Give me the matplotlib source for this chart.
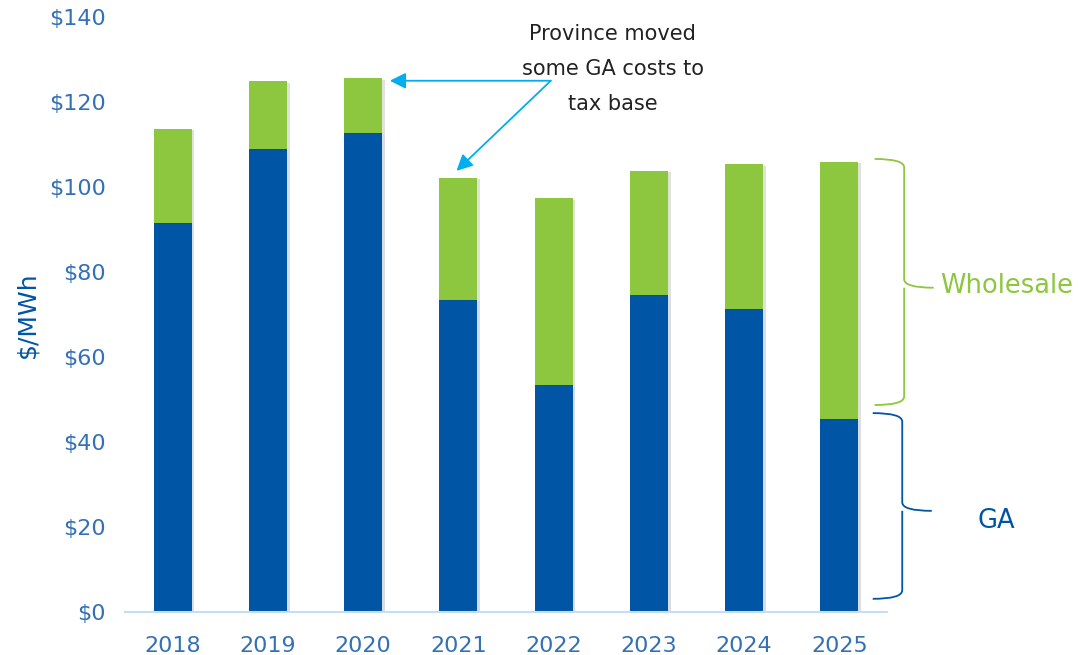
import matplotlib
matplotlib.use("Agg")
import matplotlib.pyplot as plt
from matplotlib.path import Path
from matplotlib.patches import PathPatch
import matplotlib.patheffects as pe

years = ["2018", "2019", "2020", "2021", "2022", "2023", "2024", "2025"]
ga = [91.6, 109.0, 112.8, 73.4, 53.4, 74.6, 71.3, 45.4]
total = [113.7, 124.9, 125.6, 102.2, 97.3, 103.8, 105.3, 106.0]
wholesale = [t - g for t, g in zip(total, ga)]
yticks = [0, 20, 40, 60, 80, 100, 120, 140]
note_lines = ["Province moved", "some GA costs to", "tax base"]

BLUE = "#0055A5"
GREEN = "#8DC63F"
TICK = "#3470B5"
ARROW = "#00AEEF"

fig = plt.figure(figsize=(10.79, 6.55), dpi=100)
ax = fig.add_axes([125 / 1079, (655 - 612) / 655, 762 / 1079, 595 / 655])

x = list(range(len(years)))
shadow = [pe.SimplePatchShadow(offset=(2, -1), alpha=0.15), pe.Normal()]
b1 = ax.bar(x, ga, width=0.4, color=BLUE, zorder=2)
b2 = ax.bar(x, wholesale, width=0.4, bottom=ga, color=GREEN, zorder=2)
for p in list(b1) + list(b2):
    p.set_path_effects(shadow)

ax.set_xlim(-0.5, 7.5)
ax.set_ylim(0, 140)
ax.set_xticks(x)
ax.set_xticklabels(years)
ax.set_yticks(yticks)
ax.set_yticklabels(["${}".format(v) for v in yticks])
ax.tick_params(axis="both", length=0, labelsize=16, labelcolor=TICK)
ax.tick_params(axis="y", pad=14)
ax.tick_params(axis="x", pad=17)
for s in ["top", "right", "left"]:
    ax.spines[s].set_visible(False)
ax.spines["bottom"].set_color("#C5DDF5")
ax.spines["bottom"].set_linewidth(1.5)

ax.set_ylabel("$/MWh", fontsize=18, color=BLUE)
ax.yaxis.set_label_coords(-0.113, 0.5)


# curly brace opening to the left, tip pointing right
def brace(x0, xs, xt, ytop, ybot, ymid, color):
    r = 2.0
    verts = [
        (x0, ytop), (xs, ytop), (xs, ytop - r),
        (xs, ymid + r),
        (xs, ymid), (xt, ymid),
        (xs, ymid), (xs, ymid - r),
        (xs, ybot + r),
        (xs, ybot), (x0, ybot),
    ]
    codes = [Path.MOVETO, Path.CURVE3, Path.CURVE3,
             Path.LINETO,
             Path.CURVE3, Path.CURVE3,
             Path.MOVETO, Path.LINETO,
             Path.LINETO,
             Path.CURVE3, Path.CURVE3]
    ax.add_patch(PathPatch(Path(verts, codes), fill=False, edgecolor=color,
                           lw=1.3, clip_on=False))


brace(7.37, 7.68, 7.99, 106.6, 48.7, 76.3, GREEN)
brace(7.35, 7.66, 7.97, 46.8, 3.1, 23.8, BLUE)

ax.text(8.06, 76.8, "Wholesale", fontsize=18.5, color=GREEN, va="center", ha="left")
ax.text(8.65, 21.5, "GA", fontsize=18.5, color=BLUE, va="center", ha="center")

for i, line in enumerate(note_lines):
    ax.text(4.62, 136.1 - i * 8.25, line, fontsize=15, color="#222222",
            ha="center", va="center")

arrow = dict(arrowstyle="-|>", color=ARROW, lw=1.3, mutation_scale=24,
             shrinkA=0, shrinkB=0)
ax.annotate("", xy=(2.28, 125.0), xytext=(3.97, 125.0), arrowprops=arrow)
ax.annotate("", xy=(2.98, 103.8), xytext=(3.97, 125.0), arrowprops=arrow)

fig.savefig("out.png", dpi=100)
